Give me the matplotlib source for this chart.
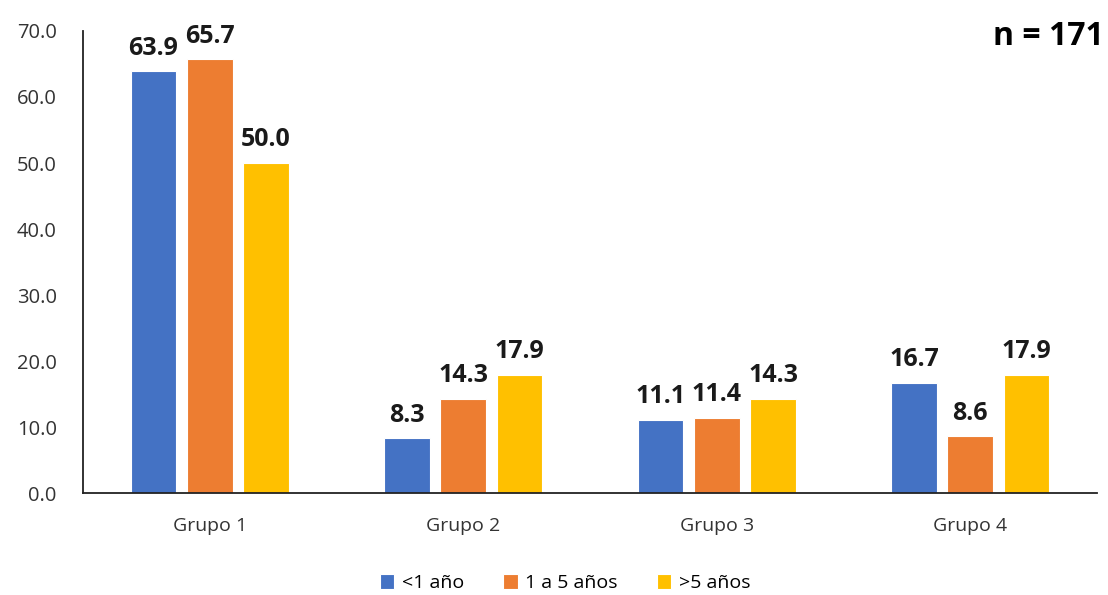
import numpy as np
from matplotlib import pyplot as plt

grupos = ['Grupo 1', 'Grupo 2', 'Grupo 3', 'Grupo 4']
series = ['<1 año', '1 a 5 años', '>5 años']
menos_1 = [63.9, 8.3, 11.1, 16.7]
de_1_a_5 = [65.7, 14.3, 11.4, 8.6]
mas_5 = [50.0, 17.9, 14.3, 17.9]
colores = ['#4472C4', '#ED7D31', '#FFC000']

plt.rcParams['font.family'] = ['Open Sans', 'DejaVu Sans']

fig = plt.figure(figsize=(11.08, 5.95), dpi=100)
ax = fig.add_axes([0.075, 0.171, 0.915, 0.777])

x = np.arange(len(grupos))
ancho = 0.18
paso = 0.222
for i, (vals, nombre) in enumerate(zip([menos_1, de_1_a_5, mas_5], series)):
    barras = ax.bar(x + (i - 1) * paso, vals, ancho, color=colores[i],
                    edgecolor='white', linewidth=0.8, label=nombre)
    for b, v in zip(barras, vals):
        ax.text(b.get_x() + b.get_width() / 2, v + 1.6, f'{v:.1f}',
                ha='center', va='bottom', fontsize=18, fontweight='bold',
                color='#1a1a1a')

ax.set_xlim(-0.5, 3.5)
ax.set_ylim(0, 70)
ax.set_yticks(np.arange(0, 71, 10))
ax.set_yticklabels([f'{t:.1f}' for t in np.arange(0, 71, 10)], fontsize=14.5,
                   color='#333333')
ax.set_xticks(x)
ax.set_xticklabels(grupos, fontsize=14, color='#333333')
ax.tick_params(axis='x', length=0, pad=17)
ax.tick_params(axis='y', length=0, pad=19)
for s in ['top', 'right']:
    ax.spines[s].set_visible(False)
ax.spines['left'].set_color('#222222')
ax.spines['bottom'].set_color('#222222')
ax.spines['left'].set_linewidth(1.3)
ax.spines['bottom'].set_linewidth(1.3)

fig.text(0.996, 0.938, 'n = 171', ha='right', va='center', fontsize=23,
         fontweight='bold')

fig.legend(loc='lower center', bbox_to_anchor=(0.51, -0.025), ncol=3,
           frameon=False, fontsize=14, handlelength=0.75, handleheight=0.75,
           handletextpad=0.4, columnspacing=2.0)

fig.savefig('out.png', dpi=100)
